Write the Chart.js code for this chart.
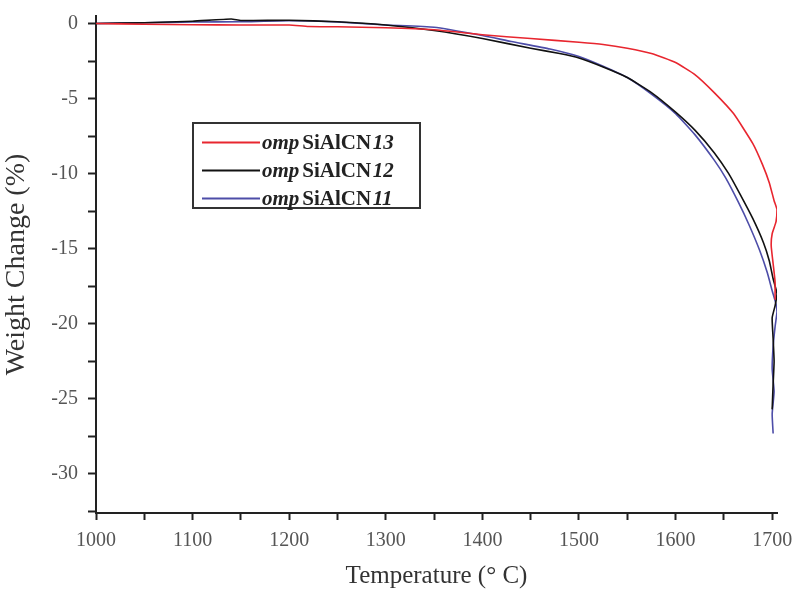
<!DOCTYPE html>
<html>
<head>
<meta charset="utf-8">
<script src="https://cdn.jsdelivr.net/npm/chart.js@4/dist/chart.umd.min.js"></script>
<style>
html,body{margin:0;padding:0;background:#fff;}
#wrap{width:798px;height:592px;position:relative;}
</style>
</head>
<body>
<div id="wrap"><canvas id="c" width="798" height="592"></canvas></div>
<script>
// ---- data ----
const red13T = [1000,1050,1100,1150,1200,1220,1250,1300,1350,1400,1450,1500,1525,1550,1575,1600,1620,1640,1660,1680,1690,1697,1702,1705,1704,1700,1699,1701,1703,1703];
const red13W = [0,-0.05,-0.08,-0.1,-0.1,-0.2,-0.22,-0.28,-0.42,-0.75,-1.0,-1.25,-1.4,-1.65,-2.0,-2.6,-3.4,-4.6,-6.0,-8.0,-9.4,-10.6,-11.8,-12.4,-13.2,-14.0,-14.8,-16.0,-17.2,-18.4];
const black12T = [1000,1050,1100,1140,1150,1200,1250,1300,1350,1400,1450,1480,1500,1525,1550,1575,1600,1620,1640,1655,1667,1680,1691,1697,1701,1705,1703,1700,1701,1702,1701,1700];
const black12W = [0,0.05,0.15,0.3,0.2,0.22,0.12,-0.1,-0.47,-1.0,-1.65,-2.0,-2.3,-2.9,-3.6,-4.6,-5.9,-7.1,-8.6,-10.0,-11.4,-13.0,-14.6,-15.8,-17.0,-18.0,-18.8,-19.6,-21.0,-22.5,-24.0,-25.7];
const blue11T = [1000,1050,1100,1150,1200,1250,1300,1350,1400,1430,1470,1500,1525,1550,1575,1600,1620,1640,1652,1665,1676,1687,1695,1700,1704,1705,1703,1701,1700,1702,1700,1701];
const blue11W = [0,0.05,0.1,0.12,0.18,0.1,-0.1,-0.25,-0.8,-1.2,-1.7,-2.2,-2.85,-3.6,-4.7,-6.0,-7.4,-9.1,-10.3,-11.9,-13.4,-15.1,-16.6,-17.8,-18.7,-19.2,-20.2,-21.5,-23.0,-24.5,-26.0,-27.3];
const xMajorTicks = [1000,1100,1200,1300,1400,1500,1600,1700];
const yMajorTicks = [0,-5,-10,-15,-20,-25,-30];

const colors = {"13": "#e8262f", "12": "#111111", "11": "#4d4da8"};

function pts(T, W){ return T.map((t,i)=>({x:t, y:W[i]})); }

const legendPlugin = {
  id: 'mixedLegend',
  afterDraw(chart){
    const ctx = chart.ctx;
    const x0 = 193, y0 = 123, w = 227, h = 85;
    ctx.save();
    ctx.fillStyle = '#fff';
    ctx.fillRect(x0, y0, w, h);
    ctx.strokeStyle = '#333';
    ctx.lineWidth = 2;
    ctx.strokeRect(x0, y0, w, h);
    chart.data.datasets.forEach((ds, i) => {
      const y = y0 + 19.5 + i * 28;
      ctx.strokeStyle = ds.borderColor;
      ctx.lineWidth = 2;
      ctx.beginPath(); ctx.moveTo(x0 + 9, y); ctx.lineTo(x0 + 67, y); ctx.stroke();
      ctx.fillStyle = '#222';
      ctx.textBaseline = 'middle';
      let tx = x0 + 69;
      ctx.font = 'italic bold 21px "Liberation Serif"';
      ctx.fillText('omp', tx, y + 1); tx += ctx.measureText('omp').width + 3;
      ctx.font = 'bold 21px "Liberation Serif"';
      ctx.fillText('SiAlCN', tx, y + 1); tx += ctx.measureText('SiAlCN').width + 1.5;
      ctx.font = 'italic bold 21px "Liberation Serif"';
      ctx.fillText(ds.label.replace('ompSiAlCN',''), tx, y + 1);
    });
    ctx.restore();
  }
};

new Chart(document.getElementById('c'), {
  type: 'line',
  data: {
    datasets: [
      {label: 'ompSiAlCN13', data: pts(red13T, red13W), borderColor: colors["13"]},
      {label: 'ompSiAlCN12', data: pts(black12T, black12W), borderColor: colors["12"]},
      {label: 'ompSiAlCN11', data: pts(blue11T, blue11W), borderColor: colors["11"]}
    ].map(d => Object.assign(d, {borderWidth: 1.6, pointRadius: 0, tension: 0.15, fill: false}))
  },
  options: {
    responsive: false,
    animation: false,
    layout: {padding: {left: 0, right: 21, top: 16, bottom: 0}},
    plugins: {legend: {display: false}, tooltip: {enabled: false}},
    scales: {
      x: {
        type: 'linear', min: 1000, max: 1705,
        border: {display: true, color: '#222', width: 2},
        grid: {display: true, drawOnChartArea: false, drawTicks: true, tickLength: 7, tickColor: '#222', tickWidth: 2},
        ticks: {
          stepSize: 50, autoSkip: false, includeBounds: false, maxRotation: 0, padding: 9,
          color: '#555', font: {family: '"Liberation Serif"', size: 20},
          callback: v => xMajorTicks.includes(v) ? String(v) : ''
        },
        title: {display: true, text: 'Temperature (° C)', color: '#333', font: {family: '"Liberation Serif"', size: 25}, padding: {top: 2, bottom: 1}},
        afterFit: s => { s.height = 79; s.paddingLeft = 0; s.paddingRight = 0; }
      },
      y: {
        type: 'linear', min: -32.6, max: 0.5,
        border: {display: true, color: '#222', width: 2},
        grid: {display: true, drawOnChartArea: false, drawTicks: true, tickLength: 8, tickColor: '#222', tickWidth: 2},
        ticks: {
          stepSize: 2.5, autoSkip: false, includeBounds: false, padding: 10,
          color: '#555', font: {family: '"Liberation Serif"', size: 20},
          callback: v => yMajorTicks.includes(v) ? String(v) : ''
        },
        title: {display: true, text: 'Weight Change (%)', color: '#333', font: {family: '"Liberation Serif"', size: 28}, padding: {top: 0, bottom: 2}},
        afterFit: s => { s.width = 96; s.paddingTop = 0; s.paddingBottom = 0; }
      }
    }
  },
  plugins: [legendPlugin]
});
</script>
</body>
</html>
